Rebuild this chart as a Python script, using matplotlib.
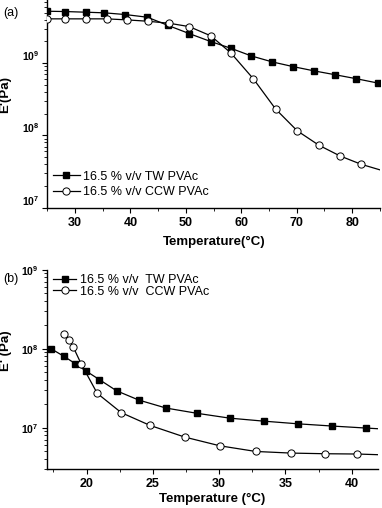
import numpy as np
import matplotlib
matplotlib.use('Agg')
import matplotlib.pyplot as plt
from matplotlib.ticker import LogLocator, FuncFormatter, MultipleLocator, NullFormatter
from matplotlib.lines import Line2D

plt.rcParams['font.family'] = ['Liberation Sans', 'DejaVu Sans']
plt.rcParams['mathtext.fontset'] = 'custom'
plt.rcParams['mathtext.bf'] = 'Liberation Sans:bold'
plt.rcParams['mathtext.rm'] = 'Liberation Sans'

# panel (a): E' vs temperature, marker points + tail of the line
temp_tw_a = [25.0, 28.2, 32.0, 35.3, 39.0, 43.05, 46.7, 50.6, 54.5, 58.1, 61.8, 65.6, 69.4, 73.2, 76.9, 80.7, 84.6]
e_tw_a = [5.24e9, 5.19e9, 5.08e9, 4.98e9, 4.72e9, 4.33e9, 3.35e9, 2.57e9, 1.99e9, 1.61e9,
          1.26e9, 1.04e9, 8.94e8, 7.8e8, 6.92e8, 6.1e8, 5.31e8]
temp_ccw_a = [25.0, 28.2, 32.0, 35.7, 39.3, 43.1, 47.0, 50.6, 54.5, 58.1, 62.2, 66.2, 70.1, 74.0, 77.8, 81.6]
e_ccw_a = [4.11e9, 4.11e9, 4.11e9, 4.11e9, 3.98e9, 3.81e9, 3.57e9, 3.21e9, 2.39e9, 1.39e9,
           6.04e8, 2.31e8, 1.155e8, 7.3e7, 5.19e7, 3.98e7]
tail_ccw_a = (85.05, 3.32e7)

# panel (b)
temp_tw_b = [17.32, 18.30, 19.15, 19.96, 20.96, 22.27, 23.93, 26.01, 28.34, 30.80, 33.36, 35.92, 38.48, 41.04]
e_tw_b = [1.0e8, 8.0e7, 6.47e7, 5.22e7, 4.07e7, 2.93e7, 2.24e7, 1.77e7, 1.52e7, 1.32e7,
          1.21e7, 1.12e7, 1.05e7, 9.9e6]
tail_tw_b = (41.97, 9.7e6)
temp_ccw_b = [18.33, 18.70, 19.00, 19.61, 20.81, 22.62, 24.78, 27.41, 30.05, 32.76, 35.41, 37.96, 40.42]
e_ccw_b = [1.55e8, 1.30e8, 1.05e8, 6.35e7, 2.72e7, 1.55e7, 1.07e7, 7.6e6, 5.9e6, 5.0e6,
           4.77e6, 4.68e6, 4.64e6]
tail_ccw_b = (41.97, 4.55e6)

label_tw_a = '16.5 % v/v TW PVAc'
label_ccw_a = '16.5 % v/v CCW PVAc'
label_tw_b = '16.5 % v/v  TW PVAc'
label_ccw_b = '16.5 % v/v  CCW PVAc'

fig = plt.figure(figsize=(3.82, 5.08), dpi=100)
ax_a = fig.add_axes([0.124, 0.5915, 0.871, 0.4085])
ax_b = fig.add_axes([0.1223, 0.0768, 0.868, 0.3923])

sq = dict(marker='s', ms=4.3, mfc='black', mec='black', color='black', lw=0.9)
ci = dict(marker='o', ms=5.2, mfc='white', mec='black', mew=0.7, color='black', lw=0.9)


def draw(ax, tx, ey, tail, style):
    lx, ly = list(tx), list(ey)
    if tail is not None:
        lx.append(tail[0])
        ly.append(tail[1])
    ax.plot(lx, ly, color='black', lw=style['lw'], zorder=2)
    st = dict(style)
    st['ls'] = 'none'
    ax.plot(tx, ey, zorder=3, **st)


def dec_fmt(v, pos):
    return r'$\mathbf{10^{%d}}$' % int(round(np.log10(v)))


draw(ax_a, temp_tw_a, e_tw_a, None, sq)
draw(ax_a, temp_ccw_a, e_ccw_a, tail_ccw_a, ci)
draw(ax_b, temp_tw_b, e_tw_b, tail_tw_b, sq)
draw(ax_b, temp_ccw_b, e_ccw_b, tail_ccw_b, ci)

for ax in (ax_a, ax_b):
    ax.set_yscale('log')
    ax.spines['top'].set_visible(False)
    ax.spines['right'].set_visible(False)
    for s in ('left', 'bottom'):
        ax.spines[s].set_linewidth(1.0)
    ax.yaxis.set_major_locator(LogLocator(base=10))
    ax.yaxis.set_minor_locator(LogLocator(base=10, subs=np.arange(2, 10)))
    ax.yaxis.set_major_formatter(FuncFormatter(dec_fmt))
    ax.yaxis.set_minor_formatter(NullFormatter())
    ax.tick_params(which='major', direction='out', length=3.5, width=0.8, pad=3)
    ax.tick_params(which='minor', direction='out', length=2, width=0.6)
    ax.tick_params(axis='x', labelsize=9)
    ax.tick_params(axis='y', labelsize=7.5, pad=2.5)

ax_a.set_xlim(25, 85.05)
ax_a.set_ylim(1e7, 7.5e9)
ax_a.xaxis.set_minor_locator(MultipleLocator(5))
ax_a.set_xticks([30, 40, 50, 60, 70, 80])
ax_a.set_xticklabels(['30', '40', '50', '60', '70', '80'], fontweight='bold')
ax_a.set_yticks([1e7, 1e8, 1e9])
for t in ax_a.yaxis.get_major_ticks():
    t.label1.set_verticalalignment('bottom')
ax_a.set_xlabel('Temperature(°C)', fontsize=9.5, fontweight='bold', labelpad=5)
ax_a.set_ylabel("E'(Pa)", fontsize=9.5, fontweight='bold')
ax_a.yaxis.set_label_coords(-0.108, 0.547)

ax_b.set_xlim(17, 42)
ax_b.set_ylim(3.0e6, 1e9)
ax_b.xaxis.set_minor_locator(MultipleLocator(2.5))
ax_b.set_xticks([20, 25, 30, 35, 40])
ax_b.set_xticklabels(['20', '25', '30', '35', '40'], fontweight='bold')
ax_b.set_xlabel('Temperature (°C)', fontsize=9.5, fontweight='bold', labelpad=2)
ax_b.set_ylabel("E' (Pa)", fontsize=9.5, fontweight='bold')
ax_b.yaxis.set_label_coords(-0.105, 0.593)

h_sq = Line2D([], [], **sq)
h_ci = Line2D([], [], **ci)
ax_a.legend([h_sq, h_ci], [label_tw_a, label_ccw_a], loc='upper left', bbox_to_anchor=(0.016, 0.177),
            frameon=False, fontsize=9, handlelength=2.18, handletextpad=0.26, labelspacing=0.28,
            borderaxespad=0, borderpad=0, numpoints=1)
ax_b.legend([h_sq, h_ci], [label_tw_b, label_ccw_b], loc='upper left', bbox_to_anchor=(0.02, 0.977),
            frameon=False, fontsize=9, handlelength=1.8, handletextpad=0.32, labelspacing=-0.05,
            borderaxespad=0, borderpad=0, numpoints=1)

fig.text(0.008, 0.975, '(a)', fontsize=9, va='center', ha='left')
fig.text(0.008, 0.451, '(b)', fontsize=9, va='center', ha='left')

fig.savefig('out.png', dpi=100)
